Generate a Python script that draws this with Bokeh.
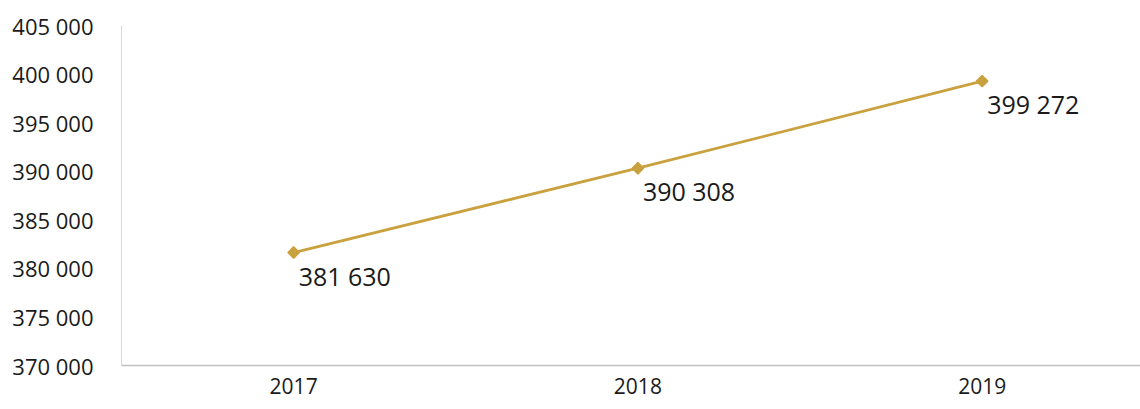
import math
from bokeh.plotting import figure
from bokeh.models import ColumnDataSource, Range1d, CustomJSTickFormatter, FixedTicker, LabelSet
from bokeh.core.properties import value
from bokeh.embed import file_html
from bokeh.resources import INLINE

years = [2017, 2018, 2019]
values = [381630, 390308, 399272]
y_ticks = [370000, 375000, 380000, 385000, 390000, 395000, 400000, 405000]

def fmt(v):
    return f"{v:,}".replace(",", " ")

src = ColumnDataSource(dict(x=years, y=values, lbl=[fmt(v) for v in values]))

p = figure(width=1140, height=409, output_backend="svg", toolbar_location=None,
           x_range=Range1d(2016.5, 2019.46), y_range=Range1d(370000, 405000),
           min_border_left=121, min_border_right=0, min_border_top=25, min_border_bottom=44)
p.outline_line_color = None
p.grid.grid_line_color = None

p.line("x", "y", source=src, line_color="#C9A13E", line_width=2.8)
p.scatter("x", "y", source=src, marker="square", angle=math.pi / 4, size=8,
          fill_color="#C9A13E", line_color="#C9A13E", line_width=1.5)

labels = LabelSet(x="x", y="y", text="lbl", source=src, x_offset=5, y_offset=-23,
                  text_baseline="middle", text_align="left", text_font=value("Open Sans"),
                  text_font_size="25px", text_color="#1a1a1a")
p.add_layout(labels)

p.yaxis.ticker = FixedTicker(ticks=y_ticks)
p.yaxis.formatter = CustomJSTickFormatter(code="return String(tick).replace(/\\B(?=(\\d{3})+(?!\\d))/g, ' ');")
p.yaxis.major_tick_line_color = None
p.yaxis.minor_tick_line_color = None
p.yaxis.axis_line_color = "#d9d9d9"
p.yaxis.major_label_text_font = "Open Sans"
p.yaxis.major_label_text_font_size = "22px"
p.yaxis.major_label_text_color = "#1a1a1a"
p.yaxis.major_label_standoff = 22

p.xaxis.ticker = FixedTicker(ticks=years)
p.xaxis.major_tick_line_color = None
p.xaxis.minor_tick_line_color = None
p.xaxis.axis_line_color = "#bfbfbf"
p.xaxis.axis_line_width = 1.5
p.xaxis.major_label_text_font = "Open Sans"
p.xaxis.major_label_text_font_size = "21px"
p.xaxis.major_label_text_color = "#1a1a1a"
p.xaxis.major_label_standoff = 6

open("out.html", "w").write(file_html(p, INLINE))
